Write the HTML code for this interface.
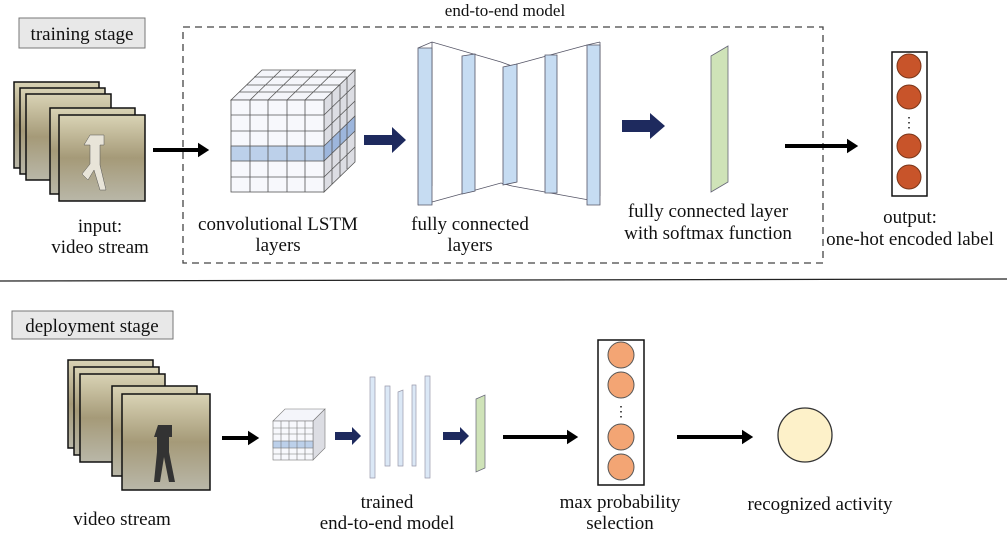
<!DOCTYPE html>
<html><head><meta charset="utf-8"><style>
body{margin:0;width:1007px;height:539px;background:#fff;overflow:hidden}
text{font-family:"Liberation Serif",serif;font-size:19px;fill:#111}
</style></head><body>
<svg width="1007" height="539" viewBox="0 0 1007 539" xmlns="http://www.w3.org/2000/svg">
<defs>
<marker id="ab" markerWidth="4" markerHeight="4" refX="2" refY="2" orient="auto" markerUnits="strokeWidth"><path d="M0,0.2 L2.8,2 L0,3.8z" fill="#000"/></marker>
<linearGradient id="ph" x1="0" y1="0" x2="0" y2="1"><stop offset="0" stop-color="#d9d3b5"/><stop offset=".5" stop-color="#a59a78"/><stop offset="1" stop-color="#b9b7a8"/></linearGradient>
</defs>
<rect x="19" y="18" width="126" height="30" fill="#e8e8e8" stroke="#777"/>
<text x="82" y="40" text-anchor="middle">training stage</text>
<text x="505" y="16" text-anchor="middle" style="font-size:17px">end-to-end model</text>
<rect x="183" y="27" width="640" height="236" fill="none" stroke="#444" stroke-dasharray="7,5" stroke-width="1.3"/>
<g stroke="#111" stroke-width="1.5">
<rect x="14" y="82" width="85" height="86" fill="url(#ph)"/>
<rect x="20" y="88" width="85" height="86" fill="url(#ph)"/>
<rect x="26" y="94" width="85" height="86" fill="url(#ph)"/>
<rect x="50" y="108" width="85" height="86" fill="url(#ph)"/>
<rect x="59" y="115" width="86" height="86" fill="url(#ph)"/>
</g>
<path d="M90 135h14v10h-4v20l6 25h-6l-6-20-6 10-6-6 8-10v-19h-6z" fill="#e8e4d8" stroke="#555" stroke-width="0.5"/>
<text x="100" y="232" text-anchor="middle">input:</text>
<text x="100" y="253" text-anchor="middle">video stream</text>
<line x1="153" y1="150" x2="206" y2="150" stroke="#000" stroke-width="4" marker-end="url(#ab)"/>
<g stroke="#555" stroke-width="0.8">
<polygon points="231,100 262,70 355,70 324,100" fill="#f4f5fa"/>
<polygon points="324,100 355,70 355,162 324,192" fill="#dcdde3"/>
<rect x="231" y="100" width="93" height="92" fill="#f7f8fc"/>
<rect x="231" y="146" width="93" height="15" fill="#bcd0ea"/>
<polygon points="324,146 355,116 355,131 324,161" fill="#9db6dc"/>
<path d="M250 100V192M268 100V192M287 100V192M305 100V192M231 115H324M231 131H324M231 177H324M239 92H332M247 85H340M254 77H347M281 70L250 100M299 70L268 100M318 70L287 100M336 70L305 100M332 92V184M340 85V177M347 77V169M324 115L355 85M324 131L355 101M324 177L355 147"/>
</g>
<polygon points="364,135 392,135 392,127 406,140 392,153 392,145 364,145" fill="#1e2a5e"/>
<g stroke="#556" stroke-width="0.8" fill="none">
<path d="M418 48L432 42L501 62L512 66L517 64L587 45L600 42M418 205L432 202L501 183L512 186L600 202M432 42V186M600 42V196"/>
</g>
<g stroke="#556" stroke-width="0.8" fill="#c6dcf2">
<polygon points="418,48 432,48 432,205 418,205"/>
<polygon points="462,56 475,54 475,191 462,194"/>
<polygon points="503,67 517,64 517,182 503,185"/>
<polygon points="545,55 557,55 557,193 545,193"/>
<polygon points="587,45 600,45 600,205 587,205"/>
</g>
<polygon points="622,120 650,120 650,113 665,126 650,139 650,132 622,132" fill="#1e2a5e"/>
<polygon points="711,56 728,46 728,182 711,192" fill="#cfe3b8" stroke="#667" stroke-width="0.8"/>
<text x="470" y="230" text-anchor="middle">fully connected</text>
<text x="470" y="251" text-anchor="middle">layers</text>
<text x="278" y="230" text-anchor="middle">convolutional LSTM</text>
<text x="278" y="251" text-anchor="middle">layers</text>
<text x="708" y="217" text-anchor="middle">fully connected layer</text>
<text x="708" y="239" text-anchor="middle">with softmax function</text>
<line x1="785" y1="146" x2="855" y2="146" stroke="#000" stroke-width="4" marker-end="url(#ab)"/>
<rect x="892" y="52" width="35" height="144" fill="#fff" stroke="#111" stroke-width="1.5"/>
<g fill="#c8542a" stroke="#7a3518"><circle cx="909" cy="66" r="12"/><circle cx="909" cy="97" r="12"/><circle cx="909" cy="146" r="12"/><circle cx="909" cy="177" r="12"/></g>
<text x="909" y="127" text-anchor="middle" style="font-size:14px">⋮</text>
<text x="910" y="223" text-anchor="middle">output:</text>
<text x="910" y="245" text-anchor="middle">one-hot encoded label</text>
<line x1="0" y1="281" x2="1007" y2="279" stroke="#222" stroke-width="1.2"/>
<rect x="12" y="311" width="161" height="28" fill="#e8e8e8" stroke="#777"/>
<text x="92" y="332" text-anchor="middle">deployment stage</text>
<g stroke="#111" stroke-width="1.5">
<rect x="68" y="360" width="85" height="88" fill="url(#ph)"/>
<rect x="74" y="367" width="85" height="88" fill="url(#ph)"/>
<rect x="80" y="374" width="85" height="88" fill="url(#ph)"/>
<rect x="112" y="386" width="85" height="90" fill="url(#ph)"/>
<rect x="122" y="394" width="88" height="96" fill="url(#ph)"/>
</g>
<path d="M158 425h14v12h-3v15l6 30h-6l-5-25-4 25h-6l3-30v-15h-3z" fill="#333"/>
<text x="122" y="525" text-anchor="middle">video stream</text>
<line x1="222" y1="438" x2="256" y2="438" stroke="#000" stroke-width="4" marker-end="url(#ab)"/>
<g stroke="#777" stroke-width="0.6">
<polygon points="273,421 285,409 325,409 313,421" fill="#f4f5fa"/>
<polygon points="313,421 325,409 325,448 313,460" fill="#dcdde3"/>
<rect x="273" y="421" width="40" height="39" fill="#f7f8fc"/>
<rect x="273" y="441" width="40" height="7" fill="#bcd0ea"/>
<path d="M281 421V460M289 421V460M297 421V460M305 421V460M273 428H313M273 434H313M273 454H313"/>
</g>
<polygon points="335,432 352,432 352,427 361,436 352,445 352,440 335,440" fill="#1e2a5e"/>
<g stroke="#99a" stroke-width="0.7" fill="#dbe8f6">
<polygon points="370,377 375,377 375,478 370,478"/>
<polygon points="385,386 390,386 390,466 385,466"/>
<polygon points="398,392 403,390 403,466 398,466"/>
<polygon points="412,385 416,385 416,466 412,466"/>
<polygon points="425,376 430,376 430,478 425,478"/>
</g>
<polygon points="443,432 460,432 460,427 469,436 460,445 460,440 443,440" fill="#1e2a5e"/>
<polygon points="476,399 485,395 485,468 476,472" fill="#cfe3b8" stroke="#667" stroke-width="0.7"/>
<line x1="503" y1="437" x2="575" y2="437" stroke="#000" stroke-width="4" marker-end="url(#ab)"/>
<rect x="598" y="340" width="46" height="145" fill="#fff" stroke="#111" stroke-width="1.5"/>
<g fill="#f3a574" stroke="#555"><circle cx="621" cy="355" r="13"/><circle cx="621" cy="385" r="13"/><circle cx="621" cy="437" r="13"/><circle cx="621" cy="467" r="13"/></g>
<text x="621" y="416" text-anchor="middle" style="font-size:14px">⋮</text>
<line x1="677" y1="437" x2="750" y2="437" stroke="#000" stroke-width="4" marker-end="url(#ab)"/>
<circle cx="805" cy="435" r="27" fill="#fdf1c9" stroke="#333" stroke-width="1.3"/>
<text x="387" y="508" text-anchor="middle">trained</text>
<text x="387" y="529" text-anchor="middle">end-to-end model</text>
<text x="620" y="508" text-anchor="middle">max probability</text>
<text x="620" y="529" text-anchor="middle">selection</text>
<text x="820" y="510" text-anchor="middle">recognized activity</text>
</svg>
</body></html>
